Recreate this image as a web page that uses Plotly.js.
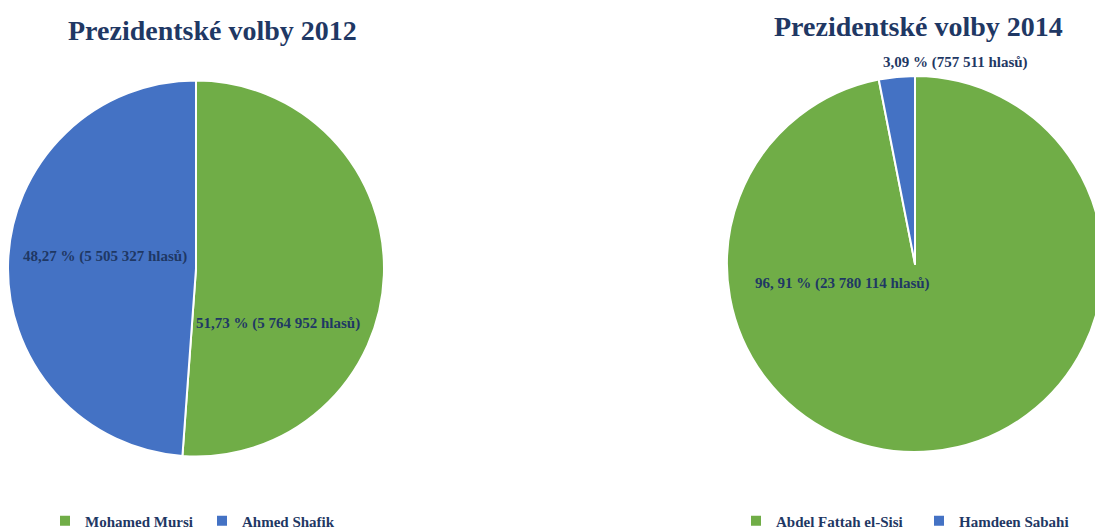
<!DOCTYPE html>
<html>
<head>
<meta charset="utf-8">
<script src="https://cdn.plot.ly/plotly-3.0.1.min.js"></script>
<style>
  html, body { margin: 0; padding: 0; overflow: hidden; background: #fff; }
  #wrap { width: 1095px; height: 531px; overflow: hidden; position: relative; }
</style>
</head>
<body>
<div id="wrap"><div id="graph"></div></div>
<script>
// 2012 election
var labels2012 = ['Mohamed Mursi', 'Ahmed Shafik'];
var values2012 = [5764952, 5505327];
var pct2012 = ['51,73', '48,27'];
var votes2012 = ['5 764 952', '5 505 327'];

// 2014 election
var labels2014 = ['Abdel Fattah el-Sisi', 'Hamdeen Sabahi'];
var values2014 = [23780114, 757511];
var pct2014 = ['96, 91', '3,09'];
var votes2014 = ['23 780 114', '757 511'];

var GREEN = '#70AD47';
var BLUE = '#4472C4';
var NAVY = '#1F3864';
// drawn a bit larger than the window and clipped: the right pie runs off the edge
var W = 1110, H = 545;

function px(x) { return x / W; }
function py(y) { return 1 - y / H; }

var serif = 'Liberation Serif, Times New Roman, serif';

var trace1 = {
  type: 'pie',
  labels: labels2012,
  values: values2012,
  sort: false,
  direction: 'clockwise',
  rotation: 0,
  textinfo: 'none',
  hoverinfo: 'label+value+percent',
  marker: { colors: [GREEN, BLUE], line: { color: '#fff', width: 2 } },
  domain: { x: [px(8), px(384)], y: [py(457), py(80)] },
  legend: 'legend'
};

var trace2 = {
  type: 'pie',
  labels: labels2014,
  values: values2014,
  sort: false,
  direction: 'clockwise',
  rotation: 0,
  textinfo: 'none',
  hoverinfo: 'label+value+percent',
  marker: { colors: [GREEN, BLUE], line: { color: '#fff', width: 2 } },
  domain: { x: [px(727), px(1103)], y: [py(452), py(76)] },
  legend: 'legend2'
};

function lbl(p, v) { return '<b>' + p + ' % (' + v + ' hlasů)</b>'; }

var labelFont = { family: serif, size: 15, color: NAVY };
var titleFont = { family: serif, size: 28, color: NAVY };
var legFont = { family: serif, size: 15, color: NAVY, weight: 'bold' };

function note(text, x, y, font) {
  return { text: text, x: px(x), y: py(y), xref: 'paper', yref: 'paper',
    xanchor: 'center', yanchor: 'middle', showarrow: false, font: font };
}

var layout = {
  width: W,
  height: H,
  margin: { l: 0, r: 0, t: 0, b: 0 },
  paper_bgcolor: '#fff',
  showlegend: true,
  legend: {
    orientation: 'h', x: px(45), y: py(521), xanchor: 'left', yanchor: 'middle',
    font: legFont, itemwidth: 30, entrywidth: 112, bgcolor: 'rgba(0,0,0,0)'
  },
  legend2: {
    orientation: 'h', x: px(736), y: py(521), xanchor: 'left', yanchor: 'middle',
    font: legFont, itemwidth: 30, entrywidth: 138, bgcolor: 'rgba(0,0,0,0)'
  },
  annotations: [
    note('<b>Prezidentské volby 2012</b>', 212, 30, titleFont),
    note('<b>Prezidentské volby 2014</b>', 918, 26, titleFont),
    note(lbl(pct2012[1], votes2012[1]), 105, 256, labelFont),
    note(lbl(pct2012[0], votes2012[0]), 278, 323, labelFont),
    note(lbl(pct2014[0], votes2014[0]), 842, 283, labelFont),
    note(lbl(pct2014[1], votes2014[1]), 955, 62, labelFont)
  ]
};

Plotly.newPlot('graph', [trace1, trace2], layout, { displayModeBar: false, staticPlot: true });
</script>
</body>
</html>
